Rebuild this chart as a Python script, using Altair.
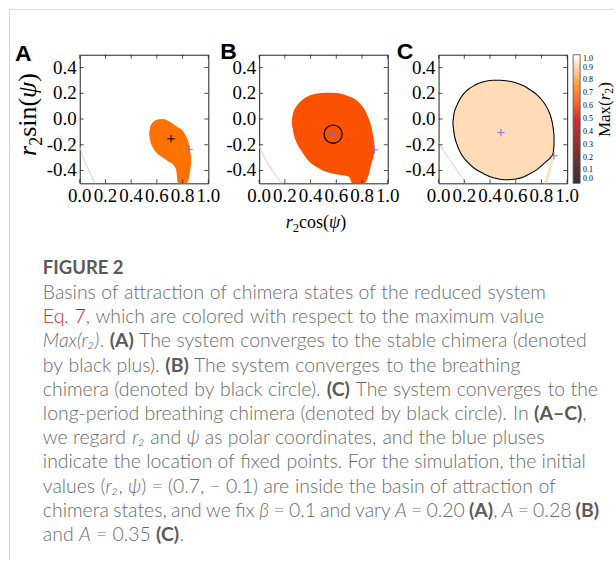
import glob
import os
import re
import struct

import altair as alt
import pandas as pd

# ---------------------------------------------------------------------------
# Basins of attraction in the (r2 cos psi, r2 sin psi) plane.
# Each basin is stored as vertical slices: x, upper edge, lower edge.
# ---------------------------------------------------------------------------
A_X = [0.540, 0.550, 0.570, 0.600, 0.645, 0.690, 0.730, 0.750, 0.765, 0.790, 0.820, 0.840, 0.856, 0.866]
A_TOP = [-0.110, -0.055, -0.025, -0.005, 0.000, -0.015, -0.040, -0.055, -0.065, -0.080, -0.120, -0.165, -0.225, -0.300]
A_BOT = [-0.120, -0.175, -0.225, -0.265, -0.300, -0.330, -0.360, -0.400, -0.500, -0.500, -0.500, -0.490, -0.420, -0.350]

B_X = [0.255, 0.265, 0.290, 0.330, 0.380, 0.440, 0.520, 0.600, 0.660, 0.700, 0.725, 0.780, 0.820, 0.850, 0.875, 0.890, 0.897]
B_TOP = [0.000, 0.050, 0.100, 0.145, 0.178, 0.197, 0.204, 0.202, 0.190, 0.175, 0.165, 0.125, 0.075, 0.010, -0.070, -0.150, -0.200]
B_BOT = [-0.040, -0.100, -0.180, -0.250, -0.320, -0.370, -0.410, -0.430, -0.440, -0.450, -0.500, -0.500, -0.500, -0.440, -0.340, -0.290, -0.250]

C_X = [0.111, 0.120, 0.140, 0.175, 0.220, 0.280, 0.350, 0.420, 0.480, 0.540, 0.600, 0.660, 0.720, 0.770, 0.810, 0.850, 0.875, 0.890, 0.898]
C_TOP = [-0.030, 0.040, 0.100, 0.170, 0.222, 0.262, 0.290, 0.301, 0.302, 0.296, 0.282, 0.258, 0.222, 0.184, 0.140, 0.075, 0.010, -0.060, -0.130]
C_BOT = [-0.030, -0.110, -0.190, -0.270, -0.330, -0.385, -0.425, -0.455, -0.468, -0.472, -0.466, -0.450, -0.420, -0.390, -0.355, -0.320, -0.295, -0.270, -0.200]

# thin filament of the C basin leaving through the lower edge
C_TAIL_Y = [-0.500, -0.450, -0.400, -0.350, -0.300]
C_TAIL_X1 = [0.815, 0.835, 0.850, 0.865, 0.880]
C_TAIL_X2 = [0.845, 0.860, 0.875, 0.885, 0.895]

# colour value Max(r2) of each basin
MAX_R2 = {"A": 0.72, "B": 0.66, "C": 0.93}

# faint grey separatrix in the lower-left corner
ARC_X = {"A": [0.0, 0.02, 0.045, 0.08, 0.12],
         "B": [0.0, 0.03, 0.07, 0.12, 0.175],
         "C": [0.0, 0.04, 0.09, 0.15, 0.215]}
ARC_Y = {"A": [-0.215, -0.28, -0.345, -0.42, -0.5],
         "B": [-0.21, -0.28, -0.35, -0.43, -0.5],
         "C": [-0.18, -0.25, -0.32, -0.41, -0.5]}

# attractors and fixed points
STABLE_X, STABLE_Y = [0.71], [-0.154]
BREATH_X, BREATH_Y = [0.575], [-0.118]
FIXED_X = {"A": [0.85], "B": [0.575, 0.897], "C": [0.485, 0.897]}
FIXED_Y = {"A": [-0.236], "B": [-0.118, -0.24], "C": [-0.106, -0.286]}

X_TICKS = [0.0, 0.2, 0.4, 0.6, 0.8, 1.0]
Y_TICKS = [-0.4, -0.2, 0.0, 0.2, 0.4]
CB_TICKS = [0.0, 0.1, 0.2, 0.3, 0.4, 0.5, 0.6, 0.7, 0.8, 0.9, 1.0]

# gist_heat colour map as piecewise-linear RGB stops
HEAT_DOMAIN = [0.0, 0.5, 2 / 3, 0.75, 1.0]
HEAT_RANGE = ["#000000", "#bf0000", "#ff5500", "#ff8000", "#ffffff"]

# axis titles as math runs: (font style, text, subscript?)
Y_TITLE = [("mi", "r", False), ("mn", "2", True), ("mn", "sin(", False), ("mi", "ψ", False), ("mn", ")", False)]
X_TITLE = [("mi", "r", False), ("mn", "2", True), ("mn", "cos(", False), ("mi", "ψ", False), ("mn", ")", False)]
CB_TITLE = [("mn", "Max(", False), ("mi", "r", False), ("mn", "2", True), ("mn", ")", False)]

CAPTION_HEAD = "FIGURE 2"
CAPTION = [
    [("p", "Basins of attraction of chimera states of the reduced system")],
    [("r", "Eq. 7"), ("p", ", which are colored with respect to the maximum value")],
    [("i", "Max(r₂)"), ("p", ". "), ("b", "(A)"), ("p", " The system converges to the stable chimera (denoted")],
    [("p", "by black plus). "), ("b", "(B)"), ("p", " The system converges to the breathing")],
    [("p", "chimera (denoted by black circle). "), ("b", "(C)"), ("p", " The system converges to the")],
    [("p", "long-period breathing chimera (denoted by black circle). In "), ("b", "(A–C)"), ("p", ",")],
    [("p", "we regard "), ("i", "r₂"), ("p", " and "), ("i", "ψ"), ("p", " as polar coordinates, and the blue pluses")],
    [("p", "indicate the location of fixed points. For the simulation, the initial")],
    [("p", "values ("), ("i", "r₂"), ("p", ", "), ("i", "ψ"), ("p", ") = (0.7, − 0.1) are inside the basin of attraction of")],
    [("p", "chimera states, and we fix "), ("i", "β"), ("p", " = 0.1 and vary "), ("i", "A"), ("p", " = 0.20 "),
     ("b", "(A)"), ("p", ", "), ("i", "A"), ("p", " = 0.28 "), ("b", "(B)")],
    [("p", "and "), ("i", "A"), ("p", " = 0.35 "), ("b", "(C)"), ("p", ".")],
]

# ---------------------------------------------------------------------------
# Page geometry (pixels)
# ---------------------------------------------------------------------------
W = H = 129
GAP = 51
ORIGIN_X, ORIGIN_Y = 79, 53          # top-left of panel A's plot area
BODY_X0, XMAX = 42, 600
HEAD_BASE, BODY_BASE, LEAD = 273, 298, 24.3


# ---------------------------------------------------------------------------
# Minimal TrueType advance-width reader, used to set runs of text inline
# ---------------------------------------------------------------------------
def find_font(*names):
    for root in ["/usr/share/fonts", "/usr/local/share/fonts", os.path.expanduser("~/.fonts")]:
        for name in names:
            hits = glob.glob(os.path.join(root, "**", name), recursive=True)
            if hits:
                return hits[0]
    return None


def font_metric(path):
    fallback = lambda s: 0.5 * len(s)
    if not path:
        return fallback
    try:
        data = open(path, "rb").read()
        ntab = struct.unpack(">H", data[4:6])[0]
        tables = {}
        for i in range(ntab):
            tag, _, off, _ = struct.unpack(">4sIII", data[12 + 16 * i: 28 + 16 * i])
            tables[tag] = off
        head = tables[b"head"]
        upem = struct.unpack(">H", data[head + 18: head + 20])[0]
        hhea = tables[b"hhea"]
        nhm = struct.unpack(">H", data[hhea + 34: hhea + 36])[0]
        hmtx = tables[b"hmtx"]
        adv = struct.unpack(">" + "HH" * nhm, data[hmtx: hmtx + 4 * nhm])[0::2]
        cmap = tables[b"cmap"]
        nsub = struct.unpack(">H", data[cmap + 2: cmap + 4])[0]
        sub = None
        for i in range(nsub):
            pid, eid, off = struct.unpack(">HHI", data[cmap + 4 + 8 * i: cmap + 12 + 8 * i])
            fmt = struct.unpack(">H", data[cmap + off: cmap + off + 2])[0]
            if fmt == 4 and (pid == 0 or (pid, eid) == (3, 1)):
                sub = cmap + off
                break
        seg2 = struct.unpack(">H", data[sub + 6: sub + 8])[0]
        seg = seg2 // 2
        ends = struct.unpack(">%dH" % seg, data[sub + 14: sub + 14 + seg2])
        starts = struct.unpack(">%dH" % seg, data[sub + 16 + seg2: sub + 16 + 2 * seg2])
        deltas = struct.unpack(">%dh" % seg, data[sub + 16 + 2 * seg2: sub + 16 + 3 * seg2])
        ro_at = sub + 16 + 3 * seg2
        ros = struct.unpack(">%dH" % seg, data[ro_at: ro_at + seg2])
    except Exception:
        return fallback

    def glyph(c):
        for i in range(seg):
            if ends[i] >= c:
                if starts[i] > c:
                    return 0
                if ros[i] == 0:
                    return (c + deltas[i]) & 0xFFFF
                a = ro_at + 2 * i + ros[i] + 2 * (c - starts[i])
                g = struct.unpack(">H", data[a: a + 2])[0]
                return (g + deltas[i]) & 0xFFFF if g else 0
        return 0

    return lambda s: sum(adv[min(glyph(ord(ch)), nhm - 1)] for ch in s) / upem


light_path = find_font("Lato-Light.ttf")
BODY_WEIGHT = 300 if light_path else 400
METRIC = {
    "p": font_metric(light_path or find_font("Lato-Regular.ttf")),
    "i": font_metric(find_font("Lato-LightItalic.ttf", "Lato-Italic.ttf")),
    "b": font_metric(find_font("Lato-Bold.ttf")),
    "mn": font_metric(find_font("LiberationSerif-Regular.ttf")),
    "mi": font_metric(find_font("LiberationSerif-Italic.ttf")),
}
METRIC["r"] = METRIC["p"]

BODY_SIZE = 505 / METRIC["p"](CAPTION[0][0][1])
HEAD_SIZE = 81 / METRIC["b"](CAPTION_HEAD)

# ---------------------------------------------------------------------------
# Text placed in page pixels (relative to panel A's plot origin)
# ---------------------------------------------------------------------------
rows = []


def put(txt, x, y, style, fs=0.0, ang=0):
    rows.append({"txt": txt, "px": x - ORIGIN_X, "py": y - ORIGIN_Y, "style": style, "fs": fs, "ang": ang})


def math_label(runs, cx, cy, size, vertical=False):
    """Lay out serif runs centred on (cx, cy); vertical text reads upward."""
    sizes = [size * (0.7 if sub else 1.0) for _, _, sub in runs]
    widths = [METRIC[st](t) * fs for (st, t, _), fs in zip(runs, sizes)]
    pos = -sum(widths) / 2
    for (st, t, sub), fs, w in zip(runs, sizes, widths):
        drop = 0.33 * size + (0.2 * size if sub else 0.0)
        if vertical:
            put(t, cx + drop, cy - pos, st, fs, 270)
        else:
            put(t, cx + pos, cy + drop, st, fs, 0)
        pos += w


put(CAPTION_HEAD, BODY_X0, HEAD_BASE, "head")
for i, runs in enumerate(CAPTION):
    y = BODY_BASE + LEAD * i
    pieces = []
    for style, text in runs:
        for tok in re.findall(r"\s+|\S+", text):
            pieces.append((tok.isspace(), tok, style))
    size = lambda t, s: METRIC[s](t) * BODY_SIZE
    words = sum(size(t, s) for sp, t, s in pieces if not sp)
    spaces = sum(size(t, s) for sp, t, s in pieces if sp)
    factor = 1.0
    if spaces > 0 and BODY_X0 + words + spaces > XMAX:
        factor = max(0.4, (XMAX - BODY_X0 - words) / spaces)
    x = BODY_X0
    for sp, t, s in pieces:
        if sp:
            x += size(t, s) * factor
        else:
            put(t, x, y, s)
            x += size(t, s)

put("A", 14, 59, "letter")
put("B", 220, 57, "letter")
put("C", 397, 57, "letter")
math_label(Y_TITLE, 27, 113, 26, vertical=True)
math_label(X_TITLE, 316, 221, 18)
math_label(CB_TITLE, 605, 108, 17, vertical=True)
ANNOT = pd.DataFrame(rows)

BORDER = pd.DataFrame({
    "x": [8.5 - ORIGIN_X, 8.5 - ORIGIN_X],
    "x2": [615 - ORIGIN_X, 8.5 - ORIGIN_X],
    "y": [7.5 - ORIGIN_Y, 7.5 - ORIGIN_Y],
    "y2": [7.5 - ORIGIN_Y, 560 - ORIGIN_Y],
})

# ---------------------------------------------------------------------------
# Shared scales and legend; tick labels are drawn as text through the scales
# ---------------------------------------------------------------------------
XS = alt.Scale(domain=[0, 1], nice=False, zero=False)
YS = alt.Scale(domain=[-0.5, 0.5], nice=False, zero=False)
CS = alt.Scale(domain=HEAT_DOMAIN, range=HEAT_RANGE, interpolate="rgb")
SERIF = "Liberation Serif"

LEGEND = alt.Legend(orient="none", legendX=2 * (W + GAP) + W + 6, legendY=0, direction="vertical",
                    title=None, gradientLength=H, gradientThickness=7,
                    gradientStrokeColor="#222222", gradientStrokeWidth=0.8,
                    values=CB_TICKS, format=".1f", labelFont=SERIF, labelFontSize=8,
                    labelColor="black", labelOffset=3, labelOverlap=False, padding=0)

PLUS = "M-1,0L1,0M0,-1L0,1"
LABEL_EXPR = "replace(format(datum.t, '.1f'), '−', '-')"


def px(field):
    return alt.X(field, axis=None)


def py(field):
    return alt.Y(field, axis=None)


def basin(key, xs, top, bot, **mark):
    df = pd.DataFrame({"x": xs, "top": top, "bot": bot, "m": MAX_R2[key]})
    return alt.Chart(df).mark_area(interpolate="monotone", **mark).encode(
        x=alt.X("x:Q", scale=XS, axis=None),
        y=alt.Y("top:Q", scale=YS, axis=None),
        y2="bot:Q",
        color=alt.Color("m:Q", scale=CS, legend=LEGEND),
    )


def arc(key):
    df = pd.DataFrame({"x": ARC_X[key], "y": ARC_Y[key]})
    return alt.Chart(df).mark_line(color="#c8c8c8", strokeWidth=0.8).encode(x=px("x:Q"), y=py("y:Q"))


def crosses(xs, ys, color, size=55):
    df = pd.DataFrame({"x": xs, "y": ys})
    return alt.Chart(df).mark_point(shape=PLUS, filled=False, size=size, strokeWidth=1,
                                    color=color, opacity=1).encode(x=px("x:Q"), y=py("y:Q"))


def frame_ticks():
    xt = pd.DataFrame({"t": X_TICKS})
    yt = pd.DataFrame({"t": Y_TICKS})
    style = dict(color="#222222", strokeWidth=0.8)
    return [
        alt.Chart(xt).mark_rule(**style).encode(x=px("t:Q"), y=alt.value(H), y2=alt.value(H - 4)),
        alt.Chart(xt).mark_rule(**style).encode(x=px("t:Q"), y=alt.value(0), y2=alt.value(4)),
        alt.Chart(yt).mark_rule(**style).encode(y=py("t:Q"), x=alt.value(0), x2=alt.value(4)),
        alt.Chart(yt).mark_rule(**style).encode(y=py("t:Q"), x=alt.value(W), x2=alt.value(W - 4)),
        alt.Chart(xt).transform_calculate(lab=LABEL_EXPR).mark_text(
            font=SERIF, fontSize=19, color="black", baseline="top", align="center").encode(
            x=px("t:Q"), y=alt.value(H + 4), text="lab:N"),
        alt.Chart(yt).transform_calculate(lab=LABEL_EXPR).mark_text(
            font=SERIF, fontSize=19, color="black", baseline="middle", align="right").encode(
            y=py("t:Q"), x=alt.value(-3), text="lab:N"),
    ]


def text_layer(style, sized=False, **mark):
    enc = dict(
        x=alt.X("px:Q", scale=None, axis=None),
        y=alt.Y("py:Q", scale=None, axis=None),
        text="txt:N",
    )
    if sized:
        enc["size"] = alt.Size("fs:Q", scale=None, legend=None)
        enc["angle"] = alt.Angle("ang:Q", scale=None, legend=None)
    return alt.Chart(ANNOT).transform_filter(alt.datum.style == style).mark_text(**mark).encode(**enc)


CAP_FONT = "Lato"
CAP_GREY = "#6a6a6a"
page_layers = [
    alt.Chart(BORDER).mark_rule(color="#d9d9d9", strokeWidth=1).encode(
        x=alt.X("x:Q", scale=None, axis=None), x2="x2:Q",
        y=alt.Y("y:Q", scale=None, axis=None), y2="y2:Q"),
    text_layer("head", font=CAP_FONT, fontWeight="bold", fontSize=HEAD_SIZE, color="#5a5a5a",
               align="left", baseline="alphabetic"),
    text_layer("p", font=CAP_FONT, fontWeight=BODY_WEIGHT, fontSize=BODY_SIZE, color=CAP_GREY,
               align="left", baseline="alphabetic"),
    text_layer("r", font=CAP_FONT, fontWeight=BODY_WEIGHT, fontSize=BODY_SIZE, color="#d9261c",
               align="left", baseline="alphabetic"),
    text_layer("i", font=CAP_FONT, fontWeight=BODY_WEIGHT, fontStyle="italic", fontSize=BODY_SIZE,
               color=CAP_GREY, align="left", baseline="alphabetic"),
    text_layer("b", font=CAP_FONT, fontWeight="bold", fontSize=BODY_SIZE, color="#5a5a5a",
               align="left", baseline="alphabetic"),
    text_layer("letter", font="Liberation Sans", fontWeight="bold", fontSize=23, color="black",
               align="left", baseline="alphabetic"),
    text_layer("mn", sized=True, font=SERIF, color="black", align="left", baseline="alphabetic"),
    text_layer("mi", sized=True, font=SERIF, fontStyle="italic", color="black",
               align="left", baseline="alphabetic"),
]

BLUE = "#7373f0"

panel_a = alt.layer(
    basin("A", A_X, A_TOP, A_BOT),
    arc("A"),
    *frame_ticks(),
    crosses(STABLE_X, STABLE_Y, "black"),
    crosses(FIXED_X["A"], FIXED_Y["A"], BLUE),
    *page_layers,
).properties(width=W, height=H)

breathing = alt.Chart(pd.DataFrame({"x": BREATH_X, "y": BREATH_Y})).mark_point(
    shape="circle", filled=False, size=330, strokeWidth=1.3, color="black", opacity=1).encode(
    x=px("x:Q"), y=py("y:Q"))

panel_b = alt.layer(
    basin("B", B_X, B_TOP, B_BOT),
    arc("B"),
    *frame_ticks(),
    breathing,
    crosses(FIXED_X["B"], FIXED_Y["B"], BLUE),
).properties(width=W, height=H)

tail = alt.Chart(pd.DataFrame({"y": C_TAIL_Y, "x1": C_TAIL_X1, "x2": C_TAIL_X2, "m": MAX_R2["C"]})).mark_area(
    orient="horizontal", interpolate="monotone", opacity=0.8).encode(
    y=py("y:Q"), x=px("x1:Q"), x2="x2:Q",
    color=alt.Color("m:Q", scale=CS, legend=LEGEND))

panel_c = alt.layer(
    tail,
    basin("C", C_X, C_TOP, C_BOT, stroke="black", strokeWidth=1.1),
    arc("C"),
    *frame_ticks(),
    crosses(FIXED_X["C"], FIXED_Y["C"], BLUE),
).properties(width=W, height=H)

chart = alt.hconcat(panel_a, panel_b, panel_c, spacing=GAP, bounds="flush").properties(
    padding={"left": 8, "top": 7, "right": 0, "bottom": 0},
    background="white",
).configure_view(
    stroke="#222222", strokeWidth=1
)

chart.save("out.html", embed_options={"renderer": "svg", "actions": False})
